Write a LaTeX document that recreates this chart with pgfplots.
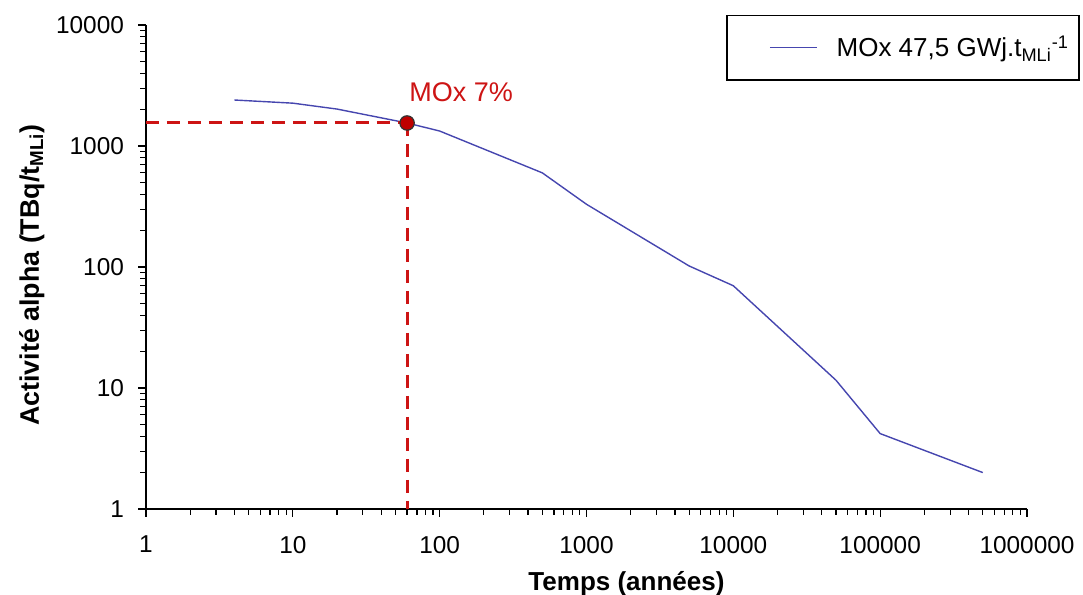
\documentclass[border=0pt]{standalone}
\usepackage{fontspec}
\setmainfont{Liberation Sans}
\usepackage{pgfplots}
\pgfplotsset{compat=1.18}
\definecolor{curve}{RGB}{70,70,175}
\definecolor{mred}{RGB}{205,20,20}
\definecolor{mdot}{RGB}{190,0,0}
\begin{document}
\begin{tikzpicture}
\useasboundingbox (-73pt,-43pt) rectangle (468.5pt,254.5pt);
\begin{axis}[
  scale only axis,
  width=440.5pt, height=242pt,
  at={(0,0)}, anchor=origin,
  xmode=log, ymode=log,
  xmin=1, xmax=1000000, ymin=1, ymax=10000,
  axis lines*=left,
  tick align=outside,
  major tick length=4pt, minor tick length=3pt,
  every tick/.style={black, line width=0.6pt},
  axis line style={black, line width=0.7pt},
  log ticks with fixed point,
  /pgf/number format/1000 sep={},
  /pgf/number format/assume math mode=true,
  ticklabel style={font=\fontsize{12.2}{14}\selectfont},
  xticklabel style={yshift=-6pt},
  yticklabel style={xshift=-3.5pt},
  xlabel={\textbf{Temps (années)}},
  ylabel={\textbf{Activité alpha (TBq/t\textsubscript{MLi})}},
  label style={font=\fontsize{13}{15}\selectfont},
  xlabel style={yshift=-2pt, xshift=20pt},
  ylabel style={yshift=-1pt, xshift=-4pt, font=\fontsize{13.4}{15}\selectfont},
  legend style={at={(axis description cs:1.06,1.021)}, anchor=north east,
    draw=black, line width=0.8pt, font=\fontsize{13}{15}\selectfont,
    inner xsep=0pt, inner ysep=8pt},
  legend cell align=left,
  legend image code/.code={%
    \path (0pt,0pt) (49pt,0pt);
    \draw[#1, line width=0.7pt] (21pt,0pt) -- (44.5pt,0pt);},
  legend style={nodes={inner xsep=5pt}},
  clip=false,
]
\addplot[curve, line width=0.7pt] coordinates {
  (4,2400) (10,2260) (20,2020) (60,1550) (100,1330) (500,600)
  (1000,330) (5000,102) (10000,70) (50000,11.6) (100000,4.2) (500000,2.0)
};
\addlegendentry{MOx 47,5 GWj.t\textsubscript{MLi}\textsuperscript{-1}\hspace{6pt}}
\addplot[mred, dash pattern=on 6.5pt off 4pt, line width=1.5pt, forget plot]
  coordinates {(1,1550) (60,1550)};
\addplot[mred, dash pattern=on 6.5pt off 4pt, line width=1.5pt, forget plot]
  coordinates {(60,1550) (60,1)};
\addplot[only marks, mark=*, mark size=3.6pt, mark options={fill=mdot, draw=black!80, line width=0.6pt}, forget plot]
  coordinates {(60,1550)} node[anchor=south west, xshift=0pt, yshift=9.5pt, text=mred, font=\fontsize{13.5}{15}\selectfont, inner sep=1pt] {MOx 7\%};
\end{axis}
\end{tikzpicture}
\end{document}
